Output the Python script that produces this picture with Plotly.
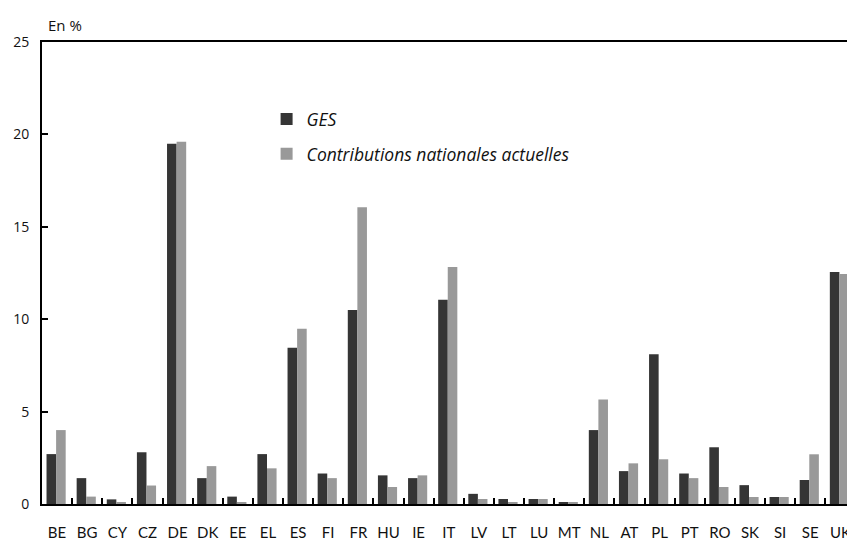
import plotly.graph_objects as go

countries = ["BE", "BG", "CY", "CZ", "DE", "DK", "EE", "EL", "ES", "FI", "FR", "HU", "IE", "IT",
             "LV", "LT", "LU", "MT", "NL", "AT", "PL", "PT", "RO", "SK", "SI", "SE", "UK"]
ges = [2.7, 1.4, 0.25, 2.8, 19.5, 1.4, 0.4, 2.7, 8.45, 1.65, 10.5, 1.55, 1.4, 11.05,
       0.55, 0.27, 0.27, 0.1, 4.0, 1.78, 8.1, 1.65, 3.07, 1.02, 0.38, 1.3, 12.55]
contrib = [4.0, 0.4, 0.1, 1.0, 19.6, 2.05, 0.1, 1.93, 9.48, 1.4, 16.06, 0.92, 1.55, 12.82,
           0.27, 0.1, 0.27, 0.08, 5.65, 2.2, 2.42, 1.4, 0.92, 0.38, 0.38, 2.69, 12.45]
series_names = ["GES", "Contributions nationales actuelles"]
y_ticks = [0, 5, 10, 15, 20, 25]

BW = 0.318
OFF = -0.35

fig = go.Figure()
fig.add_trace(go.Bar(x=countries, y=ges, name=series_names[0], marker_color="#353535",
                     marker_line_width=0, width=BW, offset=OFF, legendgroup="a"))
fig.add_trace(go.Bar(x=countries, y=contrib, name=series_names[1], marker_color="#999999",
                     marker_line_width=0, width=BW, offset=OFF + BW, legendgroup="b"))

fig.update_layout(
    width=847, height=541,
    margin=dict(l=42, r=0, t=42, b=37, autoexpand=False),
    plot_bgcolor="white", paper_bgcolor="white",
    barmode="group",
    showlegend=True,
    legend=dict(x=0.279, y=0.872, xanchor="left", yanchor="top",
                font=dict(family="Open Sans", size=17.5, color="#111111", style="italic"),
                tracegroupgap=9, bgcolor="rgba(0,0,0,0)", itemwidth=30),
    xaxis=dict(
        type="category", range=[-0.5, 26.22], automargin=False, tickangle=0,
        showline=True, linecolor="black", linewidth=2, mirror=True,
        ticks="inside", tickson="boundaries", ticklen=6, tickwidth=2, tickcolor="black",
        tickfont=dict(family="Lato", size=15, color="#111111"),
        ticklabelstandoff=14,
        showgrid=False, zeroline=False, fixedrange=True,
    ),
    yaxis=dict(
        range=[0, 25], tickvals=y_ticks, automargin=False,
        showline=True, linecolor="black", linewidth=2,
        ticks="inside", ticklen=6, tickwidth=2, tickcolor="black",
        tickfont=dict(family="Open Sans", size=14, color="#111111"),
        ticklabelstandoff=8,
        showgrid=False, zeroline=False, fixedrange=True,
    ),
    annotations=[dict(text="En %", xref="paper", yref="paper", x=0, y=1, xanchor="left",
                      yanchor="bottom", xshift=4, yshift=5, showarrow=False,
                      font=dict(family="Open Sans", size=15, color="#111111"))],
)

fig.write_html("out.html", config={"displayModeBar": False},
               post_script="document.body.style.margin='0';document.body.style.overflow='hidden';")
